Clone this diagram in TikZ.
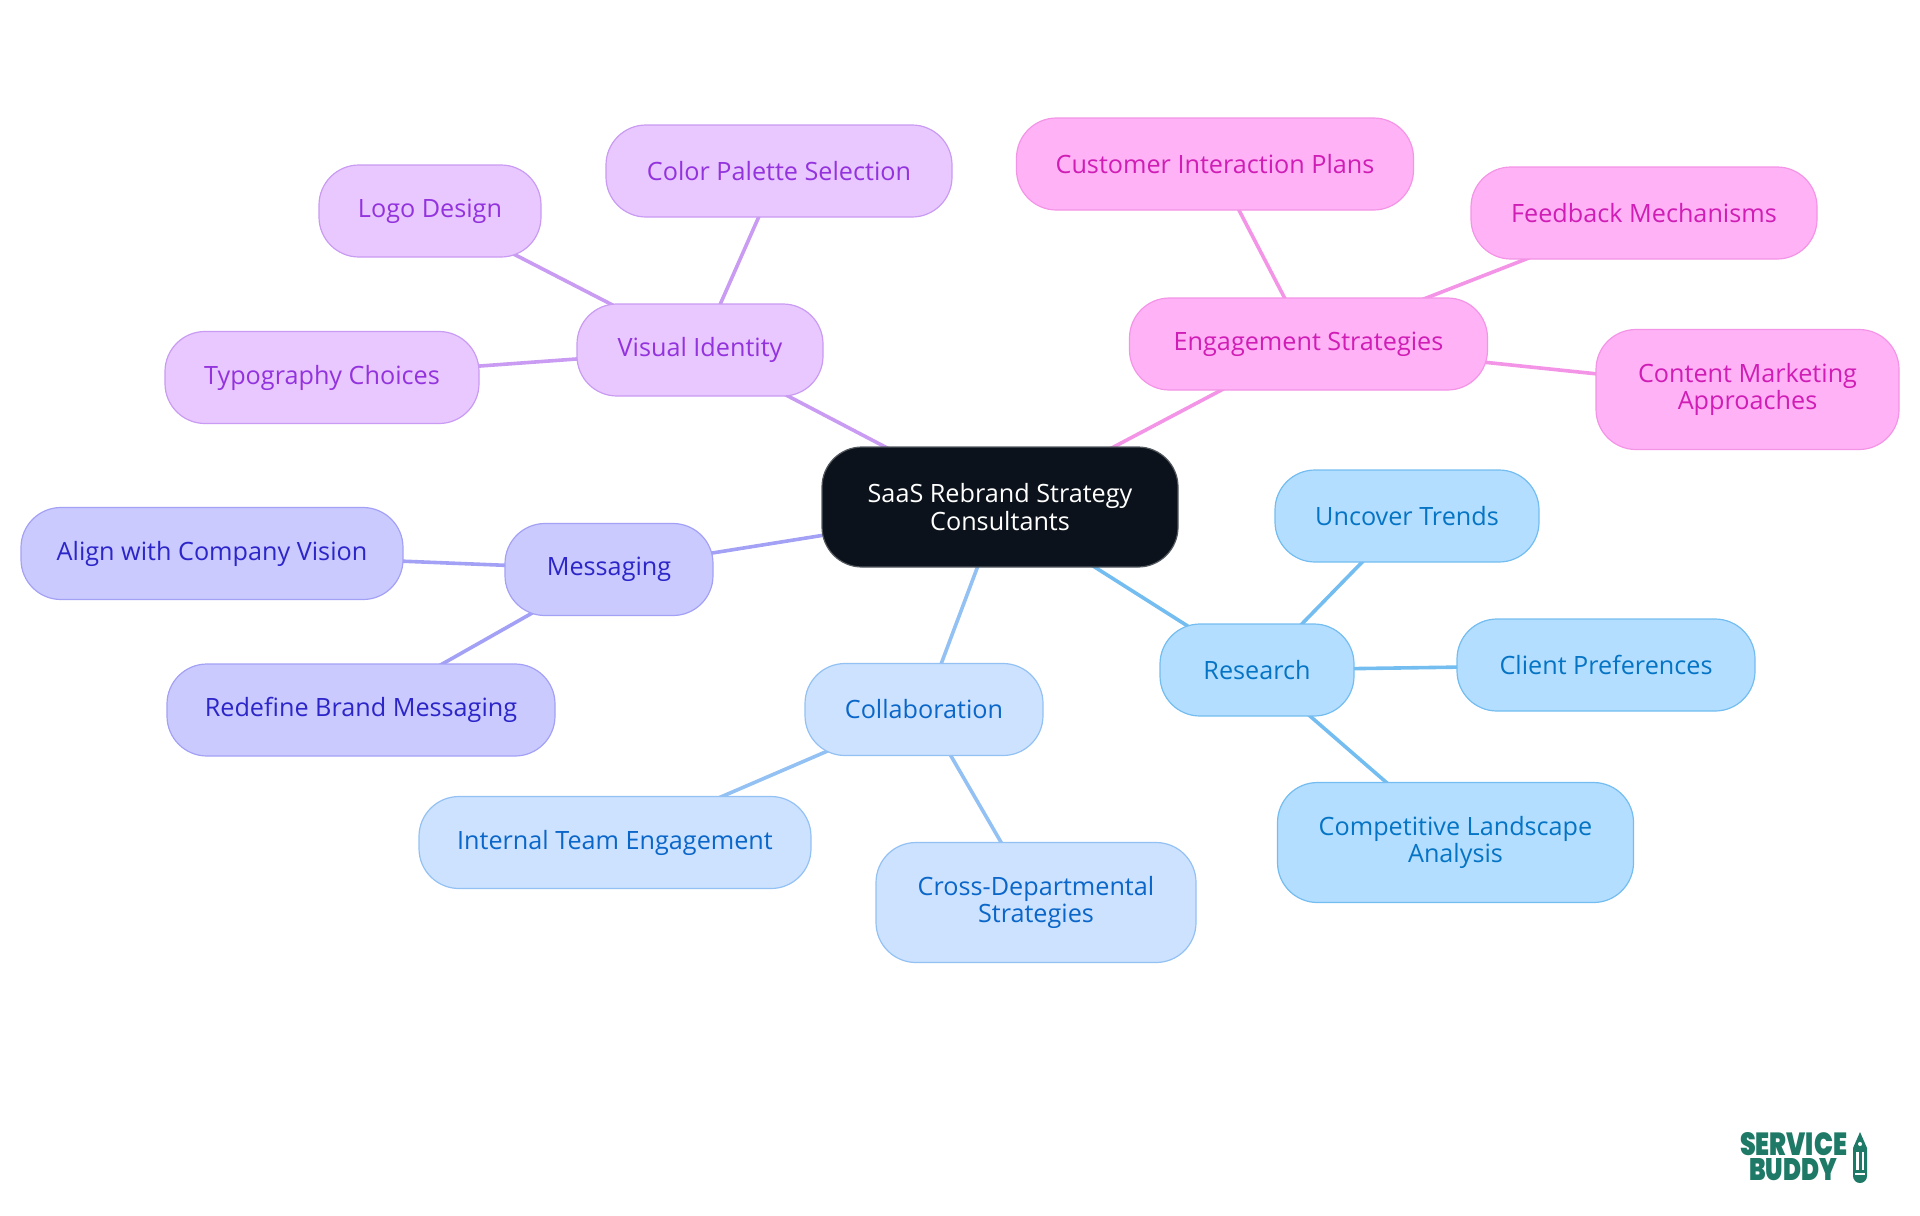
\documentclass[tikz,border=0pt]{standalone}
\usepackage{fontspec}
\setmainfont{Open Sans}
\newfontfamily\logofont{Poppins}[UprightFont=* Black]
\usetikzlibrary{backgrounds}
\definecolor{rootfill}{HTML}{0B121B}
\definecolor{purplefill}{HTML}{E9C8FF}
\definecolor{purpleline}{HTML}{C99BF2}
\definecolor{purpletext}{HTML}{9333DD}
\definecolor{pinkfill}{HTML}{FFB3F6}
\definecolor{pinkline}{HTML}{F394E6}
\definecolor{pinktext}{HTML}{CF1DB5}
\definecolor{indigofill}{HTML}{CBCAFF}
\definecolor{indigoline}{HTML}{A3A1F5}
\definecolor{indigotext}{HTML}{2C26C9}
\definecolor{bluefill}{HTML}{CCE2FF}
\definecolor{blueline}{HTML}{93C1F3}
\definecolor{bluetext}{HTML}{0A66C8}
\definecolor{skyfill}{HTML}{B3DEFF}
\definecolor{skyline}{HTML}{74BDF0}
\definecolor{skytext}{HTML}{0674C4}
\definecolor{logogreen}{HTML}{1E7A66}
\tikzset{
	topic/.style={rounded corners=20pt, line width=0.6pt, minimum height=46pt, inner sep=0pt, align=center, font=\fontsize{12.6}{13.7}\selectfont},
	purple/.style={topic, draw=purpleline, fill=purplefill, text=purpletext},
	pink/.style={topic, draw=pinkline, fill=pinkfill, text=pinktext},
	indigo/.style={topic, draw=indigoline, fill=indigofill, text=indigotext},
	blue/.style={topic, draw=blueline, fill=bluefill, text=bluetext},
	sky/.style={topic, draw=skyline, fill=skyfill, text=skytext},
	link/.style={line width=1.8pt}
}
\begin{document}
\begin{tikzpicture}[x=0.5pt, y=-0.5pt]
\useasboundingbox (0,0) rectangle (1920,1215);

\node[topic, draw=rootfill!70!white, fill=rootfill, text=white, minimum width=178pt, minimum height=60pt] (root) at (1000,507) {SaaS Rebrand Strategy\\Consultants};

% the five branches, hubs first
\foreach \name/\x/\y/\w/\kind/\txt in {
	visual/700/350/123/purple/{Visual Identity},
	engage/1308.5/344/179/pink/{Engagement Strategies},
	messaging/609/569.5/104/indigo/{Messaging},
	collab/924/709.5/119/blue/{Collaboration},
	research/1257/670/97/sky/{Research}}
{
	\node[\kind, minimum width=\w pt] (\name) at (\x,\y) {\txt};
	\begin{scope}[on background layer]
		\draw[link, \kind line] (root.center) -- (\name.center);
	\end{scope}
}

% the leaves, with the hub that each one hangs from
\foreach \hub/\name/\x/\y/\w/\h/\kind/\txt in {
	visual/palette/779/171/173/46/purple/{Color Palette Selection},
	visual/logo/430/211/111/46/purple/{Logo Design},
	visual/typo/322/377.5/157/46/purple/{Typography Choices},
	engage/customer/1215/164/198.5/46/pink/{Customer Interaction Plans},
	engage/feedback/1644/213/173/46/pink/{Feedback Mechanisms},
	engage/content/1747.5/389.5/151.5/60/pink/{Content Marketing\\Approaches},
	messaging/align/212/553.5/191/46/indigo/{Align with Company Vision},
	messaging/redefine/361/710/194/46/indigo/{Redefine Brand Messaging},
	collab/internal/615/842.5/196/46/blue/{Internal Team Engagement},
	collab/cross/1036/902.5/160/60/blue/{Cross-Departmental\\Strategies},
	research/uncover/1407/516/132/46/sky/{Uncover Trends},
	research/client/1606/665/149/46/sky/{Client Preferences},
	research/compet/1455.5/842.5/178/60/sky/{Competitive Landscape\\Analysis}}
{
	\node[\kind, minimum width=\w pt, minimum height=\h pt] (\name) at (\x,\y) {\txt};
	\begin{scope}[on background layer]
		\draw[link, \kind line] (\hub.center) -- (\name.center);
	\end{scope}
}

% logo, bottom right
\node[text=logogreen, font=\logofont, inner sep=0pt] (logotop) at (1793.5,1144.5) {\resizebox{53.5pt}{11.5pt}{SERVICE}};
\node[text=logogreen, font=\logofont, inner sep=0pt] (logobottom) at (1793,1170) {\resizebox{44pt}{11pt}{BUDDY}};
\fill[logogreen] (1860,1132) -- (1867,1148) -- (1867,1176) arc (0:180:7) -- (1853,1148) -- cycle;
\fill[white] (1856,1152) rectangle (1858.5,1170);
\fill[white] (1861.5,1152) rectangle (1864,1170);
\fill[white] (1855,1173) rectangle (1865,1175);
\fill[white] (1860,1144) circle (2);
\end{tikzpicture}
\end{document}
